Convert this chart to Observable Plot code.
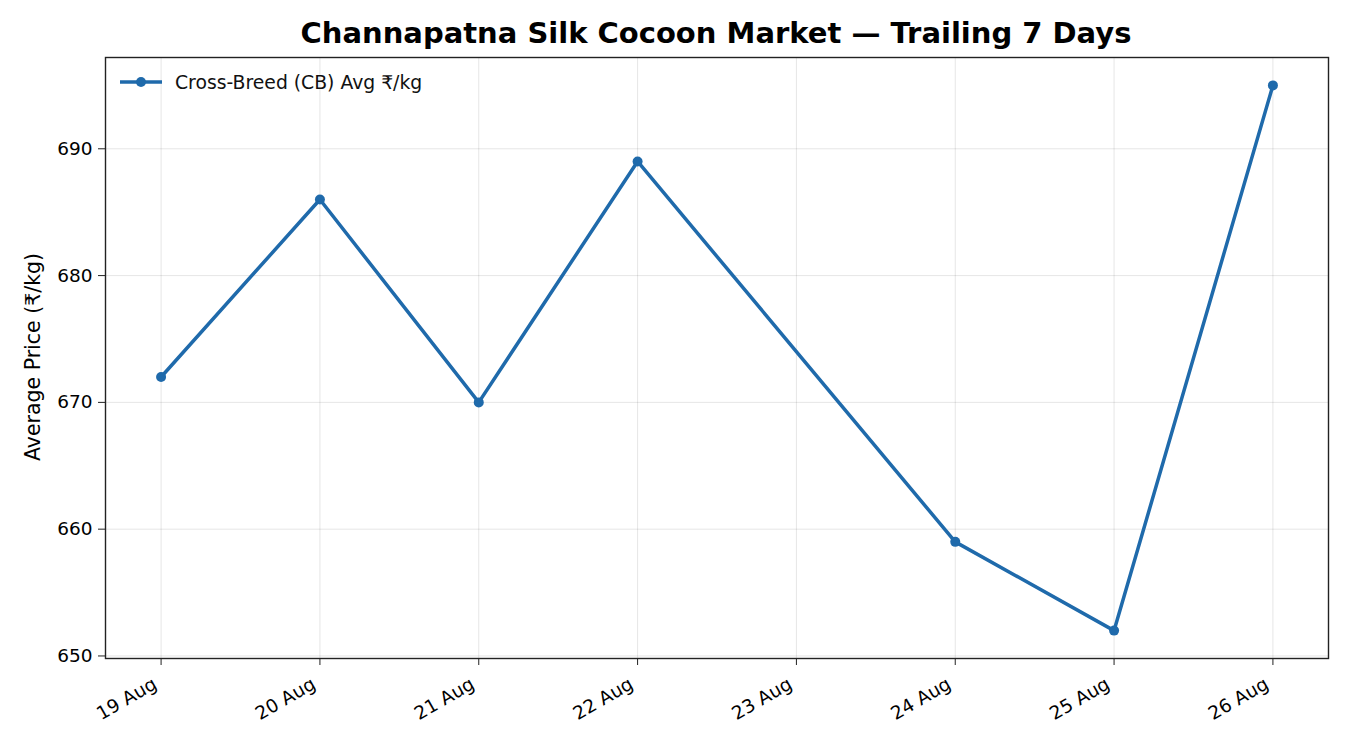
<!DOCTYPE html>
<html>
<head>
<meta charset="utf-8">
<script src="https://cdn.jsdelivr.net/npm/d3@7"></script>
<script src="https://cdn.jsdelivr.net/npm/@observablehq/plot@0.6"></script>
<style>
  html, body { margin: 0; padding: 0; background: #fff; }
  #wrap { position: relative; width: 1350px; height: 750px; font-family: "DejaVu Sans", sans-serif; }
  #title { position: relative; width: 1350px; height: 50px; }
  #title span { position: absolute; left: 716px; top: 19px; transform: translateX(-50%); white-space: nowrap;
    font-weight: bold; font-size: 29px; line-height: 29px; color: #000; }
  #legend { position: absolute; left: 118px; top: 71px; height: 22px; display: flex; align-items: center; font-size: 18.8px; color: #111; }
  #ylabel { position: absolute; left: 33px; top: 357px; transform: translate(-50%, -50%) rotate(-90deg); white-space: nowrap; font-size: 20.5px; color: #000; }
</style>
</head>
<body>
<div id="wrap">
  <div id="title"><span>Channapatna Silk Cocoon Market — Trailing 7 Days</span></div>
  <div id="chart"></div>
  <div id="legend">
    <svg width="44" height="22" style="margin-right:13px"><line x1="2" y1="11" x2="44" y2="11" stroke="#1f6aab" stroke-width="3.5"/><circle cx="23" cy="11" r="5" fill="#1f6aab"/></svg>
    <span>Cross-Breed (CB) Avg ₹/kg</span>
  </div>
  <div id="ylabel">Average Price (₹/kg)</div>
</div>
<script>
const dates = ["2024-08-19","2024-08-20","2024-08-21","2024-08-22","2024-08-24","2024-08-25","2024-08-26"];
const prices = [672, 686, 670, 689, 659, 652, 695];
const tickDates = ["2024-08-19","2024-08-20","2024-08-21","2024-08-22","2024-08-23","2024-08-24","2024-08-25","2024-08-26"];
const yTicks = [650, 660, 670, 680, 690];
const seriesName = "Cross-Breed (CB) Avg ₹/kg";
const color = "#1f6aab";

const data = dates.map((d, i) => ({date: new Date(d + "T00:00:00Z"), price: prices[i]}));
const ticks = tickDates.map(d => new Date(d + "T00:00:00Z"));
const DAY = 864e5;
const xDomain = [new Date(+ticks[0] - 0.35 * DAY), new Date(+ticks[ticks.length - 1] + 0.35 * DAY)];

const chart = Plot.plot({
  width: 1350,
  height: 700,
  marginTop: 7,
  marginBottom: 92,
  marginLeft: 105,
  marginRight: 22,
  style: {fontFamily: "DejaVu Sans, sans-serif", fontSize: "18.5px", color: "#000", background: "#fff"},
  x: {type: "utc", domain: xDomain},
  y: {domain: [649.8, 697.2]},
  marks: [
    Plot.gridX(ticks, {stroke: "#000", strokeOpacity: 0.1, strokeWidth: 1}),
    Plot.gridY(yTicks, {stroke: "#000", strokeOpacity: 0.1, strokeWidth: 1}),
    Plot.axisX(ticks, {tickSize: 7, tickFormat: () => "", label: null, stroke: "#222"}),
    Plot.axisX(ticks, {tickFormat: d3.utcFormat("%d %b"), tickRotate: -30, tickSize: 0, tickPadding: 24, dx: -6, fontSize: 18.5, label: null}),
    Plot.axisY(yTicks, {tickSize: 7, tickPadding: 6, fontSize: 18.5, label: null, stroke: "#222"}),
    Plot.line(data, {x: "date", y: "price", stroke: color, strokeWidth: 3.5}),
    Plot.dot(data, {x: "date", y: "price", r: 5, fill: color}),
    Plot.frame({stroke: "#222", strokeWidth: 1.4})
  ]
});
document.getElementById("chart").appendChild(chart);
</script>
</body>
</html>
